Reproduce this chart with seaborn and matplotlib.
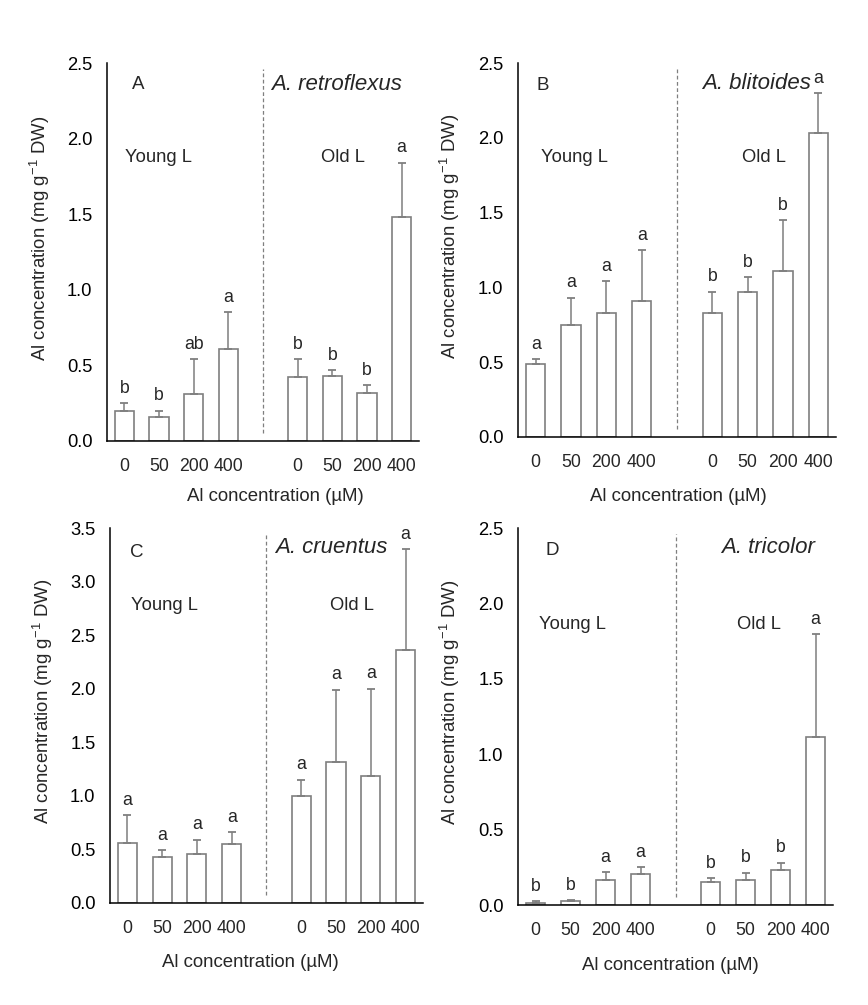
import numpy as np
import pandas as pd
import matplotlib
matplotlib.use("Agg")
import matplotlib.pyplot as plt
import seaborn as sns

sns.set_theme(style="white")
plt.rcParams['font.family'] = ['Liberation Sans', 'DejaVu Sans']
plt.rcParams['mathtext.default'] = 'regular'

# bar slots: young leaves 0-3, gap at 4, old leaves 5-8
positions = [0, 1, 2, 3, 5, 6, 7, 8]
al_doses = ["0", "50", "200", "400", "0", "50", "200", "400"]
leaf = ["Young L"] * 4 + ["Old L"] * 4

panel_ids = ["A", "B", "C", "D"]
species = ["A. retroflexus", "A. blitoides", "A. cruentus", "A. tricolor"]
ymax = [2.5, 2.5, 3.5, 2.5]

mean_A = [0.20, 0.16, 0.31, 0.61, 0.42, 0.43, 0.32, 1.48]
se_A = [0.05, 0.04, 0.23, 0.24, 0.12, 0.04, 0.05, 0.36]
let_A = ["b", "b", "ab", "a", "b", "b", "b", "a"]

mean_B = [0.49, 0.75, 0.83, 0.91, 0.83, 0.97, 1.11, 2.03]
se_B = [0.03, 0.18, 0.21, 0.34, 0.14, 0.10, 0.34, 0.27]
let_B = ["a", "a", "a", "a", "b", "b", "b", "a"]

mean_C = [0.56, 0.43, 0.46, 0.55, 1.00, 1.32, 1.19, 2.36]
se_C = [0.26, 0.06, 0.13, 0.11, 0.15, 0.67, 0.81, 0.94]
let_C = ["a", "a", "a", "a", "a", "a", "a", "a"]

mean_D = [0.015, 0.027, 0.168, 0.208, 0.155, 0.164, 0.23, 1.115]
se_D = [0.009, 0.004, 0.05, 0.044, 0.022, 0.05, 0.05, 0.68]
let_D = ["b", "b", "a", "a", "b", "b", "b", "a"]

means = [mean_A, mean_B, mean_C, mean_D]
ses = [se_A, se_B, se_C, se_D]
letters = [let_A, let_B, let_C, let_D]

# text positions (data coords): panel id, species name, Young L, Old L
id_xy = [(0.4, 2.355), (0.2, 2.353), (0.28, 3.27), (0.48, 2.35)]
sp_xy = [(6.13, 2.36), (6.25, 2.36), (5.87, 3.32), (6.64, 2.37)]
young_xy = [(0.98, 1.878), (1.11, 1.87), (1.08, 2.78), (1.07, 1.857)]
old_xy = [(6.31, 1.878), (6.46, 1.87), (6.45, 2.78), (6.39, 1.857)]
xlab_xy = [(0.54, -0.125), (0.503, -0.136), (0.447, -0.136), (0.483, -0.138)]

# axes rectangles in figure fraction
rects = [[0.1233, 0.5612, 0.3594, 0.3761],
         [0.5968, 0.5652, 0.3664, 0.3721],
         [0.1267, 0.1015, 0.3606, 0.3731],
         [0.5968, 0.0995, 0.3629, 0.3751]]

grey = "#7f7f7f"
fig = plt.figure(figsize=(8.68, 10.05), dpi=100)

for i in range(4):
    ax = fig.add_axes(rects[i])
    df = pd.DataFrame({"pos": positions, "val": means[i], "leaf": leaf})
    sns.barplot(data=df, x="pos", y="val", native_scale=True, width=0.55,
                color="white", edgecolor=grey, linewidth=1.2, errorbar=None, ax=ax)
    ax.errorbar(positions, means[i], yerr=[np.zeros(8), ses[i]], fmt="none",
                ecolor=grey, elinewidth=1.1, capsize=3, capthick=1.3)
    for p, m, s, l in zip(positions, means[i], ses[i], letters[i]):
        ax.annotate(l, (p, m + s), xytext=(0, 7.5), textcoords="offset points",
                    ha="center", va="baseline", fontsize=12.7)

    ax.axvline(4, ymin=0.02, ymax=0.985, color=grey, lw=0.9, ls=(0, (3, 2)))

    ax.text(*id_xy[i], panel_ids[i], ha="center", va="center", fontsize=13.5)
    ax.text(*sp_xy[i], species[i], ha="center", va="center", fontsize=16, style="italic")
    ax.text(*young_xy[i], "Young L", ha="center", va="center", fontsize=13.2)
    ax.text(*old_xy[i], "Old L", ha="center", va="center", fontsize=13.2)

    ax.set_xlim(-0.5, 8.5)
    ax.set_ylim(0, ymax[i])
    ax.set_yticks(np.arange(0, ymax[i] + 0.01, 0.5))
    ax.set_yticklabels([f"{v:.1f}" for v in np.arange(0, ymax[i] + 0.01, 0.5)])
    ax.set_xticks(positions)
    ax.set_xticklabels(al_doses)
    ax.tick_params(axis="y", direction="in", length=4, width=1, pad=10.5,
                   labelsize=13.2, colors="black")
    ax.tick_params(axis="x", length=0, pad=12, labelsize=12.7)
    for side in ["top", "right"]:
        ax.spines[side].set_visible(False)
    for side in ["left", "bottom"]:
        ax.spines[side].set_color("black")
        ax.spines[side].set_linewidth(1.1)

    ax.set_xlabel("Al concentration (µM)", fontsize=13.4)
    ax.xaxis.set_label_coords(*xlab_xy[i])
    ax.set_ylabel("Al concentration (mg g$^{-1}$ DW)", fontsize=13.4)
    ax.yaxis.set_label_coords(-0.177, 0.537)

fig.savefig("out.png", dpi=100)
